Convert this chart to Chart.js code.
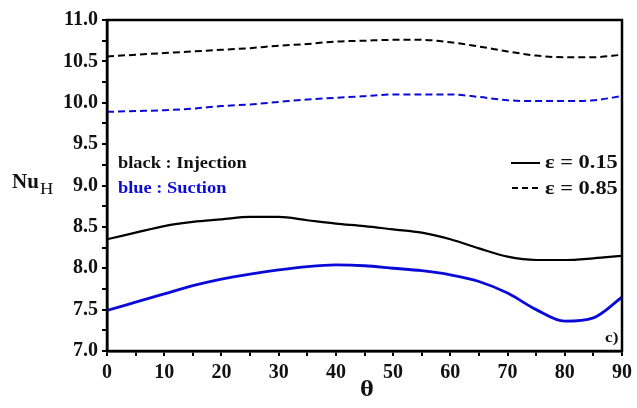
<!DOCTYPE html>
<html><head><meta charset="utf-8">
<script src="https://cdn.jsdelivr.net/npm/chart.js@4/dist/chart.umd.min.js"></script>
<style>html,body{margin:0;padding:0;background:#fff}#wrap{width:637px;height:408px}</style>
</head><body><div id="wrap"><canvas id="c" width="637" height="408"></canvas></div>
<script>
const theta = [0,5,10,15,20,25,30,35,40,45,50,55,60,65,70,75,80,85,90];
const injection085 = [10.56,10.58,10.60,10.62,10.64,10.66,10.69,10.71,10.74,10.75,10.76,10.76,10.73,10.68,10.62,10.57,10.55,10.55,10.58];
const suction085 = [9.89,9.90,9.91,9.93,9.96,9.98,10.01,10.04,10.06,10.08,10.10,10.10,10.10,10.07,10.03,10.02,10.02,10.03,10.08];
const injection015 = [8.35,8.43,8.51,8.56,8.59,8.62,8.62,8.58,8.54,8.51,8.47,8.43,8.35,8.24,8.14,8.10,8.10,8.12,8.15];
const suction015 = [7.49,7.59,7.69,7.79,7.87,7.93,7.98,8.02,8.04,8.03,8.00,7.97,7.92,7.84,7.70,7.50,7.36,7.40,7.65];
const yTicks = [7.0,7.5,8.0,8.5,9.0,9.5,10.0,10.5,11.0];
const xTicks = [0,10,20,30,40,50,60,70,80,90];

const BLUE = '#0a0ad8';
const FONT = '"Liberation Serif","Times New Roman",serif';
const pts = arr => arr.map((v,i)=>({x:theta[i], y:v}));

function txt(ctx, s, x, y, sx, align){
  ctx.save();
  ctx.translate(x, y);
  ctx.scale(sx, 1);
  ctx.textAlign = align || 'left';
  ctx.fillText(s, 0, 0);
  ctx.restore();
}

const deco = {
  id:'deco',
  afterDraw(chart){
    const {ctx, chartArea:a} = chart;
    ctx.save();
    ctx.strokeStyle='#000'; ctx.lineWidth=2.5;
    ctx.strokeRect(a.left, a.top, a.right-a.left, a.bottom-a.top);
    ctx.fillStyle='#111';
    ctx.textBaseline='alphabetic';
    ctx.font='bold 20px '+FONT;
    txt(ctx,'Nu', 12, 188, 1.05);
    ctx.font='16px '+FONT;
    txt(ctx,'H', 40, 194, 1.15);
    ctx.font='bold 23px '+FONT;
    txt(ctx,'θ', 367, 396, 1.15, 'center');
    ctx.font='bold 16px '+FONT;
    txt(ctx,'black : Injection', 118, 168, 1.15);
    ctx.fillStyle=BLUE;
    txt(ctx,'blue : Suction', 118, 193, 1.15);
    ctx.fillStyle='#111';
    ctx.font='bold 15px '+FONT;
    txt(ctx,'c)', 605, 342, 1.15);
    ctx.font='bold 19px '+FONT;
    txt(ctx,'ε = 0.15', 545, 168, 1.18);
    txt(ctx,'ε = 0.85', 545, 194, 1.18);
    ctx.strokeStyle='#000'; ctx.lineWidth=2;
    ctx.beginPath(); ctx.moveTo(511,163); ctx.lineTo(540,163); ctx.stroke();
    ctx.setLineDash([6,4]);
    ctx.beginPath(); ctx.moveTo(512,188); ctx.lineTo(540,188); ctx.stroke();
    ctx.restore();
  }
};

new Chart(document.getElementById('c'), {
  type:'line',
  data:{datasets:[
    {label:'inj085', data:pts(injection085), borderColor:'#000', borderWidth:2, borderDash:[7,4]},
    {label:'suc085', data:pts(suction085), borderColor:BLUE, borderWidth:2, borderDash:[7,4]},
    {label:'inj015', data:pts(injection015), borderColor:'#000', borderWidth:2.2},
    {label:'suc015', data:pts(suction015), borderColor:BLUE, borderWidth:2.8}
  ]},
  options:{
    responsive:false, animation:false,
    layout:{padding:{top:20,right:12,left:0,bottom:0}},
    elements:{point:{radius:0}, line:{cubicInterpolationMode:'monotone', fill:false}},
    plugins:{legend:{display:false}, tooltip:{enabled:false}},
    scales:{
      x:{type:'linear', min:0, max:90,
        afterFit(s){s.height=57;},
        afterBuildTicks(s){ const t=[]; for(let v=0; v<=90; v+=5) t.push({value:v}); s.ticks=t; },
        ticks:{autoSkip:false, maxRotation:0, padding:5, color:'#111', font:{family:FONT, size:20, weight:'bold'},
          callback:v=> xTicks.includes(v)? String(v):''},
        grid:{drawOnChartArea:false, tickLength:5, color:'#000', lineWidth:2},
        border:{display:true, color:'#000', width:2.5}
      },
      y:{type:'linear', min:7, max:11,
        afterFit(s){s.width=107;},
        afterBuildTicks(s){ const t=[]; for(let v=7; v<=11.001; v+=0.25) t.push({value:Math.round(v*100)/100}); s.ticks=t; },
        ticks:{autoSkip:false, padding:4, color:'#111', font:{family:FONT, size:20, weight:'bold'},
          callback:v=> yTicks.includes(v)? v.toFixed(1):''},
        grid:{drawOnChartArea:false, tickLength:5, color:'#000', lineWidth:2},
        border:{display:true, color:'#000', width:2.5}
      }
    }
  },
  plugins:[deco]
});
</script></body></html>
